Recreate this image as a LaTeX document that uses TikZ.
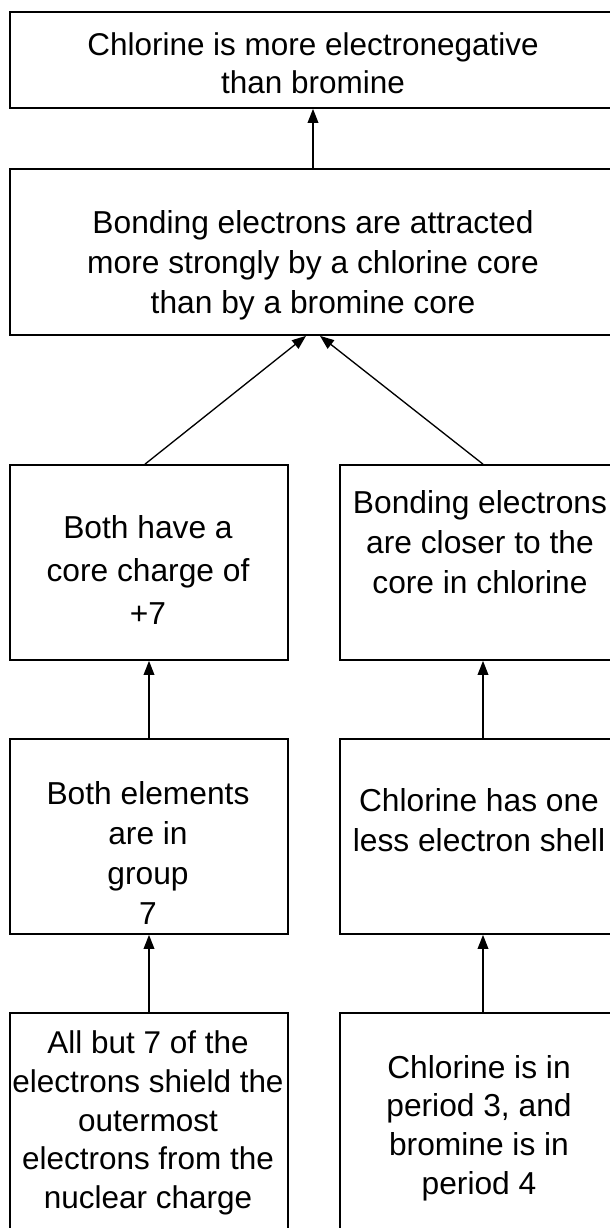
\documentclass[tikz,border=0pt]{standalone}
\usepackage{fontspec}
\setmainfont{Liberation Sans}
\usetikzlibrary{arrows.meta,calc,fit}
\begin{document}
\begin{tikzpicture}[x=0.75pt,y=-0.75pt,
  box/.style={draw,line width=1.3pt,inner sep=0pt,rectangle},
  txt/.style={align=center,inner sep=0pt,font=\fontsize{23.8}{30}\selectfont},
  arr/.style={line width=1pt,-{Triangle[length=10.5pt,width=8pt]}}]
\useasboundingbox (0,0) rectangle (610,1228);
\clip (0,0) rectangle (610,1228);
% boxes
\node[box,fit={(10,12) (616,108)}] (t) {};
\node[box,fit={(10,169) (616,335)}] (b) {};
\node[box,fit={(10,465) (288,660)}] (l3) {};
\node[box,fit={(340,465) (626,660)}] (r3) {};
\node[box,fit={(10,739) (288,934)}] (l4) {};
\node[box,fit={(340,739) (626,934)}] (r4) {};
\node[box,fit={(10,1013) (288,1260)}] (l5) {};
\node[box,fit={(340,1013) (626,1260)}] (r5) {};
% texts
\node[txt,font=\fontsize{23.6}{28.5}\selectfont] (tt) at (313,63) {Chlorine is more electronegative\\than bromine};
\node[txt] (bt) at (313,265) {Bonding electrons are attracted\\more strongly by a chlorine core\\than by a bromine core};
\node[txt,font=\fontsize{23.8}{32}\selectfont] (l3t) at (148,570) {Both have a\\core charge of\\+7};
\node[txt] (r3t) at (480,542) {Bonding electrons\\are closer to the\\core in chlorine};
\node[txt] (l4t) at (148,853) {Both elements\\are in\\group\\7};
\node[txt] (r4t) at (479,820) {Chlorine has one\\less electron shell};
\node[txt,font=\fontsize{23.6}{29}\selectfont] (l5t) at (148,1123) {All but 7 of the\\electrons shield the\\outermost\\electrons from the\\nuclear charge};
\node[txt,font=\fontsize{23.8}{29}\selectfont] (r5t) at (479,1128) {Chlorine is in\\period 3, and\\bromine is in\\period 4};
% connectors
\coordinate (bl) at ($(b.south)+(-7,0)$);
\coordinate (br) at ($(b.south)+(7,0)$);
\draw[arr] (b.north) -- (t.south);
\draw[arr] ($(l3.north)+(-4,0)$) -- (bl);
\draw[arr] (r3.north) -- (br);
\draw[arr] (l4.north) -- (l3.south);
\draw[arr] (r4.north) -- (r3.south);
\draw[arr] (l5.north) -- (l4.south);
\draw[arr] (r5.north) -- (r4.south);
\end{tikzpicture}
\end{document}
